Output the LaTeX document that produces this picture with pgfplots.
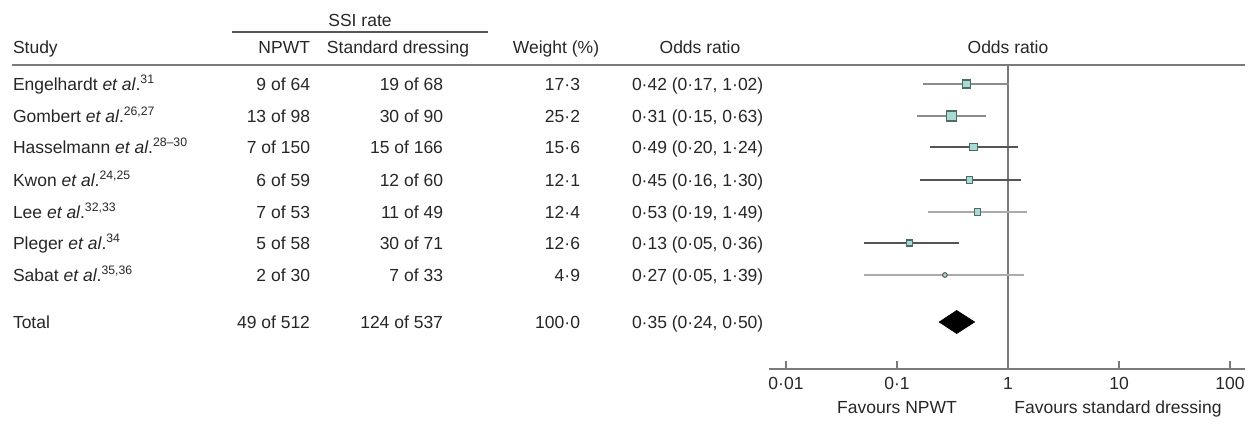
\documentclass[border=0pt]{standalone}
\usepackage{pgfplots}
\pgfplotsset{compat=1.18}
\usepackage{fontspec}
\setmainfont{Liberation Sans}
\definecolor{txt}{HTML}{262626}
\definecolor{mk}{HTML}{A8DCD3}
\definecolor{mkd}{HTML}{4F6B67}
\definecolor{lA}{HTML}{8C8C8C}
\definecolor{lB}{HTML}{555555}
\definecolor{lC}{HTML}{ABABAB}
\definecolor{axc}{HTML}{7A7A7A}
\newcommand\rowtext[6]{%
  \node[anchor=base west] at (13,#1+6) {#2};
  \node[anchor=base east] at (310,#1+6) {#3};
  \node[anchor=base east] at (443,#1+6) {#4};
  \node[anchor=base east] at (580,#1+6) {#5};
  \node[anchor=base west] at (632,#1+6) {#6};
}
\newcommand\etal{\textit{et al}.}
\tikzset{px/.style={x=0.6pt,y=-0.6pt},
  every node/.style={inner sep=0pt, outer sep=0pt, text=txt, font=\fontsize{10.5}{12.6}\selectfont}}
\begin{document}
\begin{tikzpicture}
\begin{scope}[px]
\useasboundingbox (0,0) rectangle (1249,425);
\coordinate (A) at (769,369);
% header
\node[anchor=base] at (360,26) {SSI rate};
\draw[color=lB, line width=0.9pt] (232,32) -- (488,32);
\node[anchor=base west] at (13,53) {Study};
\node[anchor=base east] at (310,53) {NPWT};
\node[anchor=base] at (398,53) {Standard dressing};
\node[anchor=base] at (556,53) {Weight (\%)};
\node[anchor=base] at (700,53) {Odds ratio};
\node[anchor=base] at (1008,53) {Odds ratio};
\draw[color=axc, line width=1.2pt] (12,65) -- (1245,65);
% rows
\rowtext{84}{Engelhardt \etal\textsuperscript{31}}{9 of 64}{19 of 68}{17·3}{0·42 (0·17, 1·02)}
\rowtext{116}{Gombert \etal\textsuperscript{26,27}}{13 of 98}{30 of 90}{25·2}{0·31 (0·15, 0·63)}
\rowtext{147}{Hasselmann \etal\textsuperscript{28–30}}{7 of 150}{15 of 166}{15·6}{0·49 (0·20, 1·24)}
\rowtext{180}{Kwon \etal\textsuperscript{24,25}}{6 of 59}{12 of 60}{12·1}{0·45 (0·16, 1·30)}
\rowtext{212}{Lee \etal\textsuperscript{32,33}}{7 of 53}{11 of 49}{12·4}{0·53 (0·19, 1·49)}
\rowtext{243}{Pleger \etal\textsuperscript{34}}{5 of 58}{30 of 71}{12·6}{0·13 (0·05, 0·36)}
\rowtext{275}{Sabat \etal\textsuperscript{35,36}}{2 of 30}{7 of 33}{4·9}{0·27 (0·05, 1·39)}
\rowtext{322}{Total}{49 of 512}{124 of 537}{100·0}{0·35 (0·24, 0·50)}
\node[anchor=base] at (897,413) {Favours NPWT};
\node[anchor=base] at (1118,413) {Favours standard dressing};
\end{scope}
% forest plot
\begin{axis}[
  at={(A)}, anchor=south west,
  scale only axis, width=285.6pt, height=182.4pt,
  xmode=log, xmin=0.00703, xmax=136.5,
  ymin=-369, ymax=-65,
  axis x line*=bottom, axis y line=none,
  x axis line style={-},
  axis line style={color=axc, line width=1.2pt},
  xtick={0.01,0.1,1,10,100},
  xticklabels={0·01,0·1,1,10,100},
  xminorticks=false,
  tick align=inside,
  major tick length=4.8pt,
  tick style={color=axc, line width=0.9pt},
  xticklabel style={text=txt, font=\fontsize{10.5}{12.6}\selectfont, inner sep=0pt, yshift=-5pt},
  clip=false,
]
\addplot[color=axc, line width=1.2pt] coordinates {(1,-369) (1,-65)};
% CIs
\addplot[color=lA, line width=0.9pt] coordinates {(0.17,-84) (1.02,-84)};
\addplot[color=lA, line width=0.9pt] coordinates {(0.15,-116) (0.63,-116)};
\addplot[color=lB, line width=0.9pt] coordinates {(0.20,-147) (1.24,-147)};
\addplot[color=lB, line width=0.9pt] coordinates {(0.16,-180) (1.30,-180)};
\addplot[color=lC, line width=0.9pt] coordinates {(0.19,-212) (1.49,-212)};
\addplot[color=lB, line width=0.9pt] coordinates {(0.05,-243) (0.36,-243)};
\addplot[color=lC, line width=0.9pt] coordinates {(0.05,-275) (1.39,-275)};
% point estimates
\addplot[only marks, mark=square*, mark size=2.4pt, mark options={fill=mk, draw=mkd, line width=0.7pt}] coordinates {(0.42,-84)};
\addplot[only marks, mark=square*, mark size=3pt, mark options={fill=mk, draw=mkd, line width=0.7pt}] coordinates {(0.31,-116)};
\addplot[only marks, mark=square*, mark size=2.3pt, mark options={fill=mk, draw=mkd, line width=0.7pt}] coordinates {(0.49,-147)};
\addplot[only marks, mark=square*, mark size=1.9pt, mark options={fill=mk, draw=mkd, line width=0.7pt}] coordinates {(0.45,-180)};
\addplot[only marks, mark=square*, mark size=1.9pt, mark options={fill=mk, draw=mkd, line width=0.7pt}] coordinates {(0.53,-212)};
\addplot[only marks, mark=square*, mark size=1.8pt, mark options={fill=mk, draw=mkd, line width=0.7pt}] coordinates {(0.13,-243)};
\addplot[only marks, mark=*, mark size=1.4pt, mark options={fill=mk, draw=lB, line width=0.6pt}] coordinates {(0.27,-275)};
% pooled
\addplot[fill=black, draw=black] coordinates {(0.24,-322) (0.345,-310.5) (0.50,-322) (0.345,-333.5) (0.24,-322)};
\end{axis}
\end{tikzpicture}
\end{document}
